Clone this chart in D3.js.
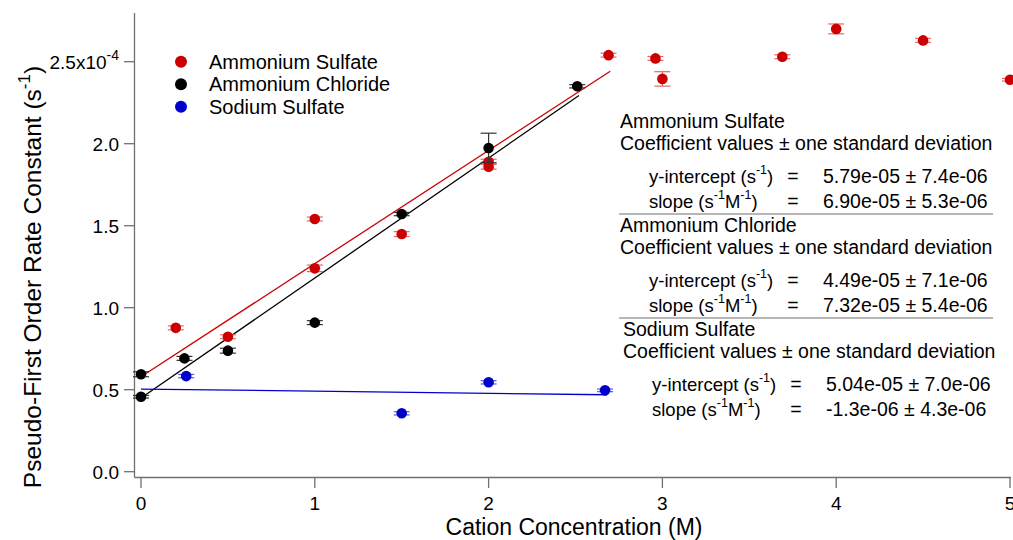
<!DOCTYPE html>
<html><head><meta charset="utf-8">
<script src="https://cdn.jsdelivr.net/npm/d3@7"></script>
<style>
html,body{margin:0;padding:0;background:#fff;}
svg text{font-family:"Liberation Sans",Arial,sans-serif;fill:#000;}
</style></head>
<body>
<svg id="c" width="1013" height="540"></svg>
<script>
// ---- data (values in s^-1) ----
const seriesNames = ["Ammonium Sulfate", "Ammonium Chloride", "Sodium Sulfate"];
const seriesColors = ["#cc0000", "#000000", "#0000cc"];
const sulfateX   = [0.2, 0.5, 1.0, 1.0, 1.5, 2.0, 2.0, 2.69, 2.96, 3.0, 3.69, 4.0, 4.5, 5.0];
const sulfateY   = [0.877e-4, 0.823e-4, 1.541e-4, 1.240e-4, 1.449e-4, 1.89e-4, 1.86e-4, 2.54e-4, 2.52e-4, 2.395e-4, 2.53e-4, 2.70e-4, 2.63e-4, 2.39e-4];
const sulfateErr = [0.012e-4, 0.012e-4, 0.012e-4, 0.02e-4, 0.015e-4, 0.015e-4, 0.015e-4, 0.012e-4, 0.012e-4, 0.044e-4, 0.012e-4, 0.03e-4, 0.012e-4, 0.008e-4];
const chlorideX   = [0, 0, 0.25, 0.5, 1.0, 1.5, 2.0, 2.51];
const chlorideY   = [0.594e-4, 0.457e-4, 0.691e-4, 0.738e-4, 0.909e-4, 1.571e-4, 1.974e-4, 2.35e-4];
const chlorideErr = [0.015e-4, 0.008e-4, 0.012e-4, 0.015e-4, 0.012e-4, 0.01e-4, 0.09e-4, 0.01e-4];
const sodiumX   = [0.26, 1.5, 2.0, 2.67];
const sodiumY   = [0.583e-4, 0.356e-4, 0.545e-4, 0.496e-4];
const sodiumErr = [0.01e-4, 0.01e-4, 0.01e-4, 0.008e-4];
// linear fits: intercept, slope, x-range end
const fitIntercept = [5.79e-05, 4.49e-05, 5.04e-05];
const fitSlope     = [6.90e-05, 7.32e-05, -1.3e-06];
const fitXEnd      = [2.7, 2.52, 2.68];
// axis ticks
const xTicks = [0, 1, 2, 3, 4, 5];
const yTicks = [0, 0.5e-4, 1.0e-4, 1.5e-4, 2.0e-4, 2.5e-4];
const yTickLabels = ["0.0", "0.5", "1.0", "1.5", "2.0", "2.5x10"];
// annotation
const fitIntercepts = ["5.79e-05 ± 7.4e-06", "4.49e-05 ± 7.1e-06", "5.04e-05 ± 7.0e-06"];
const fitSlopes     = ["6.90e-05 ± 5.3e-06", "7.32e-05 ± 5.4e-06", "-1.3e-06 ± 4.3e-06"];

// ---- layout ----
const svg = d3.select("#c");
const x = d3.scaleLinear().domain([0, 5]).range([141, 1010]);
const y = d3.scaleLinear().domain([0, 2.5e-4]).range([471.7, 61.7]);
const axisColor = "#707070";

// axes lines
svg.append("line").attr("x1",134.5).attr("x2",134.5).attr("y1",13).attr("y2",477.5)
  .attr("stroke",axisColor).attr("stroke-width",1.3);
svg.append("line").attr("x1",134.5).attr("x2",1011).attr("y1",477.5).attr("y2",477.5)
  .attr("stroke",axisColor).attr("stroke-width",1.3);

// x ticks
const xa = svg.append("g");
xTicks.forEach(t => {
  xa.append("line").attr("x1",x(t)).attr("x2",x(t)).attr("y1",477.5).attr("y2",488)
    .attr("stroke",axisColor).attr("stroke-width",1.3);
  xa.append("text").attr("x",x(t)).attr("y",510).attr("text-anchor","middle")
    .attr("font-size",19).text(t);
});
// y ticks
const ya = svg.append("g");
yTicks.forEach((t,i) => {
  ya.append("line").attr("x1",124).attr("x2",134.5).attr("y1",y(t)).attr("y2",y(t))
    .attr("stroke",axisColor).attr("stroke-width",1.3);
  const tx = ya.append("text").attr("x",119).attr("y",y(t)+7).attr("font-size",19)
    .attr("text-anchor","end");
  if (i === yTicks.length-1) {
    tx.append("tspan").text(yTickLabels[i]);
    tx.append("tspan").attr("dy",-9).attr("font-size",14).text("-4");
  } else {
    tx.text(yTickLabels[i]);
  }
});

// axis titles
svg.append("text").attr("x",574).attr("y",535).attr("text-anchor","middle")
  .attr("font-size",23).text("Cation Concentration (M)");
const yl = svg.append("text").attr("transform","translate(41,277) rotate(-90)")
  .attr("text-anchor","middle").attr("font-size",24.5);
yl.append("tspan").text("Pseudo-First Order Rate Constant (s");
yl.append("tspan").attr("dy",-11).attr("font-size",17).text("-1");
yl.append("tspan").attr("dy",11).text(")");

// fit lines
const fitG = svg.append("g");
[0,1,2].forEach(i => {
  fitG.append("line")
    .attr("x1",x(0)).attr("y1",y(fitIntercept[i]))
    .attr("x2",x(fitXEnd[i])).attr("y2",y(fitIntercept[i]+fitSlope[i]*fitXEnd[i]))
    .attr("stroke",seriesColors[i]).attr("stroke-width",1.3);
});

// points + error bars
const series = [
  {xs: sulfateX, ys: sulfateY, es: sulfateErr},
  {xs: chlorideX, ys: chlorideY, es: chlorideErr},
  {xs: sodiumX, ys: sodiumY, es: sodiumErr}
];
const errColors = ["#e06a6a", "#333333", "#5a5ae0"];
const drawOrder = [2, 0, 1];
drawOrder.forEach(si => {
  const s = series[si];
  const g = svg.append("g");
  const pts = s.xs.map((v,k) => ({x:v, y:s.ys[k], e:s.es[k]}));
  pts.forEach(p => {
    const cx = x(p.x), top = y(p.y + p.e), bot = y(p.y - p.e);
    g.append("line").attr("x1",cx).attr("x2",cx).attr("y1",top).attr("y2",bot)
      .attr("stroke",errColors[si]).attr("stroke-width",1.2);
    [top, bot].forEach(yy => g.append("line").attr("x1",cx-8).attr("x2",cx+8)
      .attr("y1",yy).attr("y2",yy).attr("stroke",errColors[si]).attr("stroke-width",1.2));
  });
  g.selectAll("circle").data(pts).join("circle")
    .attr("cx",d=>x(d.x)).attr("cy",d=>y(d.y)).attr("r",5.3)
    .attr("fill",seriesColors[si]);
});

// legend
const lg = svg.append("g");
seriesNames.forEach((n,i) => {
  const yy = 61.7 + i*22.5;
  lg.append("circle").attr("cx",181).attr("cy",yy).attr("r",6).attr("fill",seriesColors[i]);
  lg.append("text").attr("x",209).attr("y",yy+7).attr("font-size",20).text(n);
});

// annotation
const FS = 19.5;
const ann = svg.append("g");
function supLabel(xx, yy, withM) {
  const tx = ann.append("text").attr("x",xx).attr("y",yy).attr("font-size",18.5);
  if (!withM) {
    tx.append("tspan").text("y-intercept (s");
    tx.append("tspan").attr("dy",-9).attr("font-size",12.5).text("-1");
    tx.append("tspan").attr("dy",9).text(")");
  } else {
    tx.append("tspan").text("slope (s");
    tx.append("tspan").attr("dy",-9).attr("font-size",12.5).text("-1");
    tx.append("tspan").attr("dy",9).text("M");
    tx.append("tspan").attr("dy",-9).attr("font-size",12.5).text("-1");
    tx.append("tspan").attr("dy",9).text(")");
  }
}
const blockBase = [128, 232, 336];
const blockLeft = [620, 620, 623];
seriesNames.forEach((n,i) => {
  const b = blockBase[i], L = blockLeft[i];
  const rows = [b, b+22, b+55, b+80];
  ann.append("text").attr("x",L).attr("y",rows[0]).attr("font-size",FS).text(n);
  ann.append("text").attr("x",L).attr("y",rows[1]).attr("font-size",FS)
    .text("Coefficient values ± one standard deviation");
  supLabel(L+29, rows[2], false);
  supLabel(L+29, rows[3], true);
  [2,3].forEach(r => ann.append("text").attr("x",L+173).attr("y",rows[r])
    .attr("font-size",FS).attr("text-anchor","middle").text("="));
  ann.append("text").attr("x",L+203).attr("y",rows[2]).attr("font-size",FS).text(fitIntercepts[i]);
  ann.append("text").attr("x",L+203).attr("y",rows[3]).attr("font-size",FS).text(fitSlopes[i]);
  if (i < 2) {
    const ry = b + 86;
    ann.append("line").attr("x1",619).attr("x2",993).attr("y1",ry).attr("y2",ry)
      .attr("stroke","#707070").attr("stroke-width",1.2);
  }
});
</script>
</body></html>
